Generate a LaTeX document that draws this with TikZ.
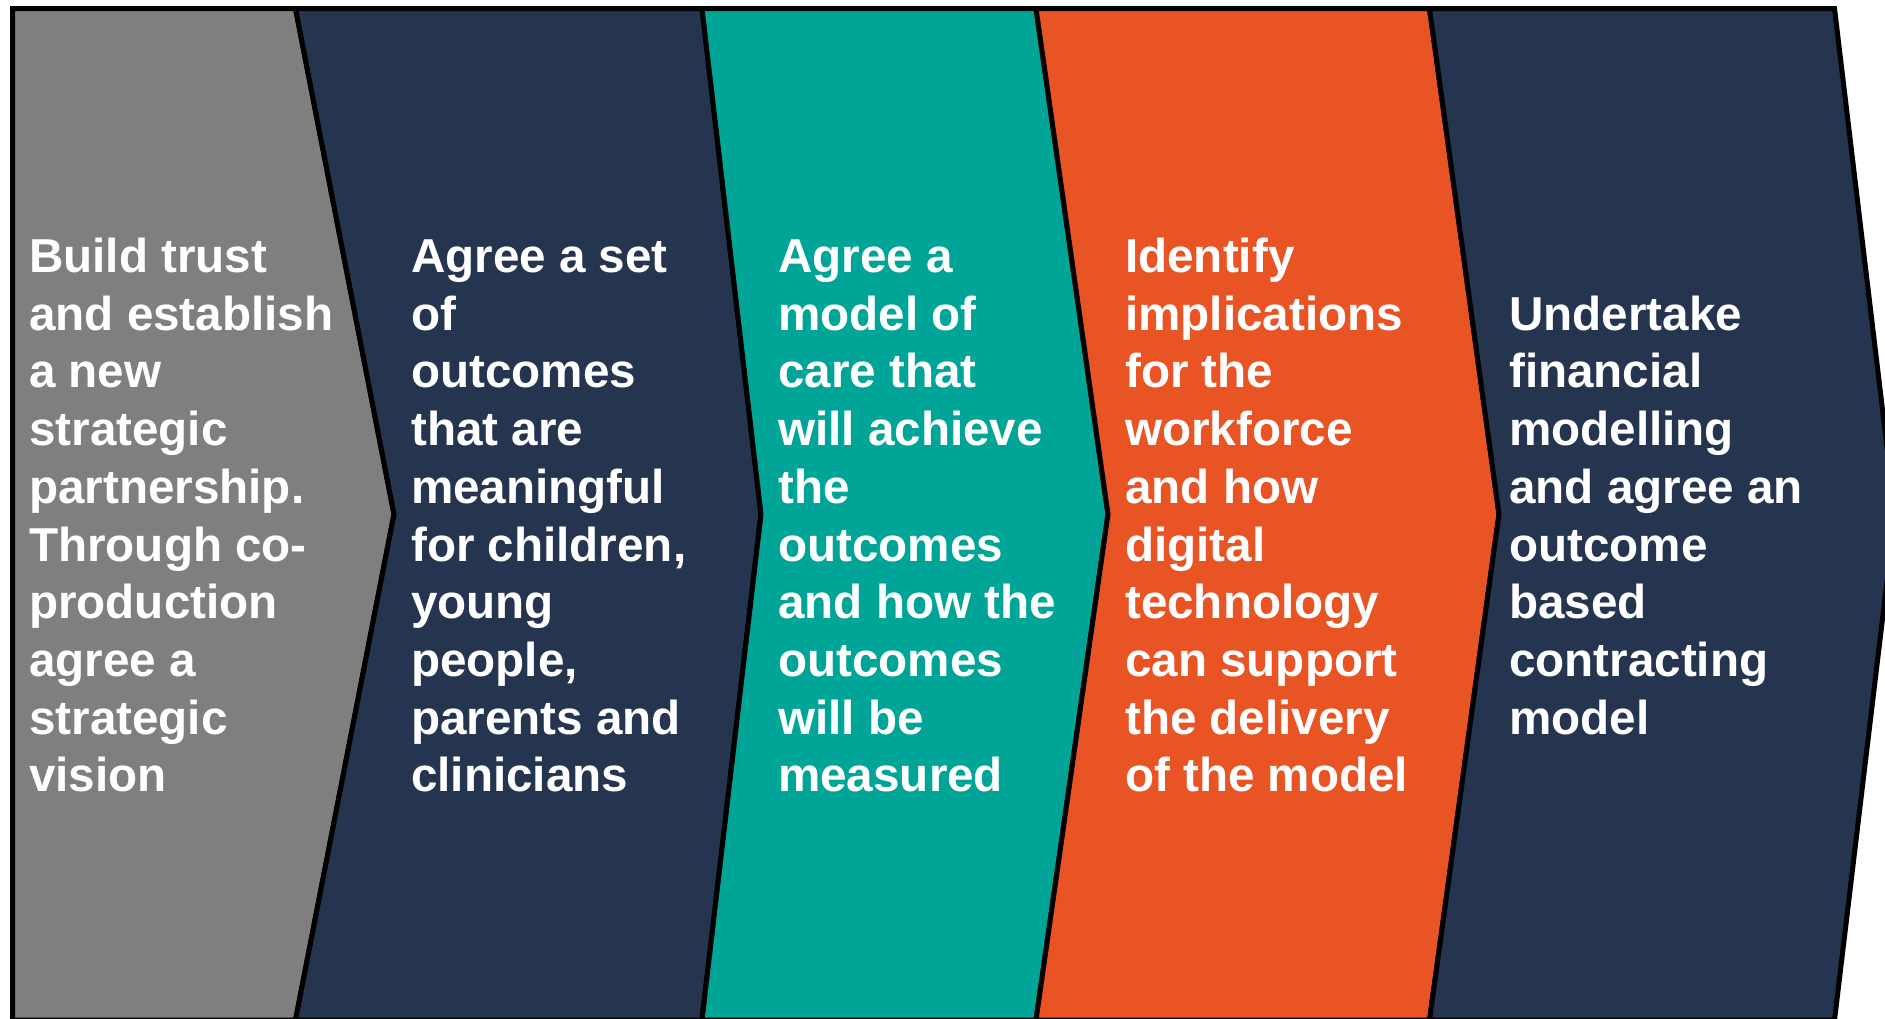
\documentclass[tikz,border=0pt]{standalone}
\usepackage{fontspec}
\setmainfont{Liberation Sans}
\definecolor{cgray}{HTML}{7F7F7F}
\definecolor{cnavy}{HTML}{26354F}
\definecolor{cteal}{HTML}{00A597}
\definecolor{corange}{HTML}{E85424}
\begin{document}
\begin{tikzpicture}[x=1pt,y=-1pt,
  chev/.style={draw=black, line width=5pt, line join=miter},
  lbl/.style={text=white, font=\fontsize{47.6}{57.7}\selectfont\bfseries, align=left, inner sep=0pt, anchor=base west}]
\useasboundingbox (0,0) rectangle (1885,1018);
\clip (0,0) rectangle (1885,1018);
\fill[white] (0,0) rectangle (1885,1018);
% chevrons
\draw[chev, fill=cgray] (12.5,8.5) -- (295.5,8.5) -- (394,514.25) -- (295.5,1020) -- (12.5,1020) -- cycle;
\draw[chev, fill=cnavy] (295.5,8.5) -- (702,8.5) -- (761,514.25) -- (702,1020) -- (295.5,1020) -- (394,514.25) -- cycle;
\draw[chev, fill=cteal] (702,8.5) -- (1036,8.5) -- (1108,514.25) -- (1036,1020) -- (702,1020) -- (761,514.25) -- cycle;
\draw[chev, fill=corange] (1036,8.5) -- (1429.5,8.5) -- (1499,514.25) -- (1429.5,1020) -- (1036,1020) -- (1108,514.25) -- cycle;
\draw[chev, fill=cnavy] (1429.5,8.5) -- (1834.5,8.5) -- (1895,514.25) -- (1834.5,1020) -- (1429.5,1020) -- (1499,514.25) -- cycle;
% texts (anchored at the baseline of their last line)
\node[lbl] (t1) at (29,791.8) {Build trust\\and establish\\a new\\strategic\\partnership.\\Through co-\\production\\agree a\\strategic\\vision};
\node[lbl] (t2) at (411,791.8) {Agree a set\\of\\outcomes\\that are\\meaningful\\for children,\\young\\people,\\parents and\\clinicians};
\node[lbl] (t3) at (778,791.8) {Agree a\\model of\\care that\\will achieve\\the\\outcomes\\and how the\\outcomes\\will be\\measured};
\node[lbl] (t4) at (1125,791.8) {Identify\\implications\\for the\\workforce\\and how\\digital\\technology\\can support\\the delivery\\of the model};
\node[lbl] (t5) at (1509,734.1) {Undertake\\financial\\modelling\\and agree an\\outcome\\based\\contracting\\model};
\end{tikzpicture}
\end{document}
